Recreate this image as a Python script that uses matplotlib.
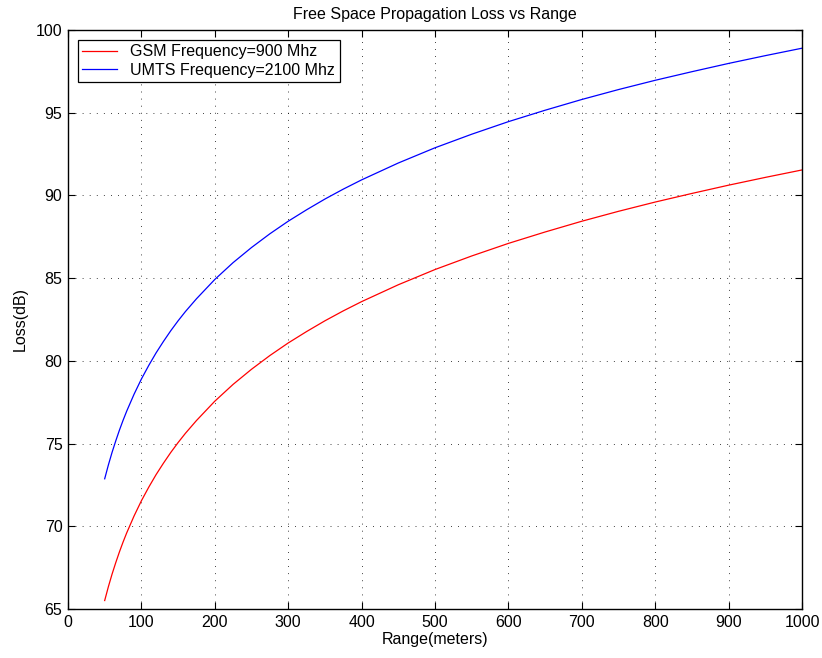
import matplotlib
matplotlib.use("Agg")
import matplotlib.pyplot as plt

plt.rcParams['font.family'] = ['Liberation Sans', 'DejaVu Sans']

# range in meters and free space loss in dB for each band
range_m = [50, 55, 60, 65, 70, 75, 80, 90, 100, 110, 120, 130, 140, 150, 160, 175,
           200, 225, 250, 275, 300, 325, 350, 375, 400, 450, 500, 550, 600, 650,
           700, 750, 800, 850, 900, 950, 1000]
gsm_loss = [65.51, 66.34, 67.10, 67.79, 68.44, 69.04, 69.60, 70.62, 71.54, 72.36,
            73.12, 73.81, 74.46, 75.06, 75.62, 76.39, 77.56, 78.58, 79.49, 80.32,
            81.08, 81.77, 82.42, 83.02, 83.58, 84.60, 85.52, 86.34, 87.10, 87.79,
            88.44, 89.04, 89.60, 90.12, 90.62, 91.09, 91.54]
umts_loss = [72.87, 73.70, 74.46, 75.15, 75.80, 76.40, 76.96, 77.98, 78.90, 79.72,
             80.48, 81.17, 81.82, 82.42, 82.98, 83.75, 84.92, 85.94, 86.85, 87.68,
             88.44, 89.13, 89.78, 90.38, 90.94, 91.96, 92.88, 93.70, 94.46, 95.15,
             95.80, 96.40, 96.96, 97.48, 97.98, 98.45, 98.90]

fig = plt.figure(figsize=(8.22, 6.58), dpi=100)
ax = fig.add_axes([0.0827, 0.0745, 0.8930, 0.8799])

ax.plot(range_m, gsm_loss, color='red', linewidth=0.9, label='GSM Frequency=900 Mhz')
ax.plot(range_m, umts_loss, color='blue', linewidth=0.9, label='UMTS Frequency=2100 Mhz')

ax.set_xlim(0, 1000)
ax.set_ylim(65, 100)
ax.set_xticks(range(0, 1001, 100))
ax.set_yticks(range(65, 101, 5))
ax.tick_params(direction='in', top=True, right=True, labelsize=11.5, length=5, pad=4)
ax.grid(True, color='black', linestyle=(0, (1, 7.5)), linewidth=0.6)
for s in ax.spines.values():
    s.set_linewidth(1.0)

ax.set_title('Free Space Propagation Loss vs Range', fontsize=11.5, pad=8)
ax.set_xlabel('Range(meters)', fontsize=11.5, labelpad=2)
ax.set_ylabel('Loss(dB)', fontsize=11.5, labelpad=6)

leg = ax.legend(loc='upper left', fontsize=11.5, fancybox=False, framealpha=1,
                edgecolor='black', borderaxespad=0.6, handlelength=2.2,
                borderpad=0.3, labelspacing=0.2)
leg.get_frame().set_linewidth(0.9)

fig.savefig('out.png', dpi=100)
